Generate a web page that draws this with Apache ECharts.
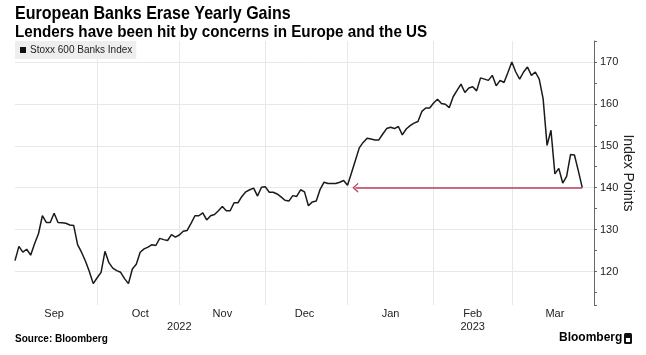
<!DOCTYPE html>
<html><head><meta charset="utf-8">
<script src="https://cdn.jsdelivr.net/npm/echarts@6/dist/echarts.min.js"></script>
<style>html,body{margin:0;padding:0;background:#fff}#c{width:646px;height:355px}</style>
</head><body><div id="c"></div>
<script>
// Trading days, Stoxx 600 Banks Index
const dates = [
 '2022-09-01','2022-09-02','2022-09-05','2022-09-06','2022-09-07','2022-09-08','2022-09-09','2022-09-12','2022-09-13','2022-09-14','2022-09-15','2022-09-16','2022-09-19','2022-09-20','2022-09-21','2022-09-22','2022-09-23','2022-09-26','2022-09-27','2022-09-28','2022-09-29','2022-09-30',
 '2022-10-03','2022-10-04','2022-10-05','2022-10-06','2022-10-07','2022-10-10','2022-10-11','2022-10-12','2022-10-13','2022-10-14','2022-10-17','2022-10-18','2022-10-19','2022-10-20','2022-10-21','2022-10-24','2022-10-25','2022-10-26','2022-10-27','2022-10-28','2022-10-31',
 '2022-11-01','2022-11-02','2022-11-03','2022-11-04','2022-11-07','2022-11-08','2022-11-09','2022-11-10','2022-11-11','2022-11-14','2022-11-15','2022-11-16','2022-11-17','2022-11-18','2022-11-21','2022-11-22','2022-11-23','2022-11-24','2022-11-25','2022-11-28','2022-11-29','2022-11-30',
 '2022-12-01','2022-12-02','2022-12-05','2022-12-06','2022-12-07','2022-12-08','2022-12-09','2022-12-12','2022-12-13','2022-12-14','2022-12-15','2022-12-16','2022-12-19','2022-12-20','2022-12-21','2022-12-22','2022-12-23','2022-12-27','2022-12-28','2022-12-29','2022-12-30',
 '2023-01-02','2023-01-03','2023-01-04','2023-01-05','2023-01-06','2023-01-09','2023-01-10','2023-01-11','2023-01-12','2023-01-13','2023-01-16','2023-01-17','2023-01-18','2023-01-19','2023-01-20','2023-01-23','2023-01-24','2023-01-25','2023-01-26','2023-01-27','2023-01-30','2023-01-31',
 '2023-02-01','2023-02-02','2023-02-03','2023-02-06','2023-02-07','2023-02-08','2023-02-09','2023-02-10','2023-02-13','2023-02-14','2023-02-15','2023-02-16','2023-02-17','2023-02-20','2023-02-21','2023-02-22','2023-02-23','2023-02-24','2023-02-27','2023-02-28',
 '2023-03-01','2023-03-02','2023-03-03','2023-03-06','2023-03-07','2023-03-08','2023-03-09','2023-03-10','2023-03-13','2023-03-14','2023-03-15','2023-03-16','2023-03-17','2023-03-20','2023-03-21','2023-03-22','2023-03-23','2023-03-24'
];
// empty trailing categories (axis runs on past the last close)
const padDates = ['2023-03-27','2023-03-28','2023-03-29'];

const bankIndex = [
 122.6,126.0,124.6,125.3,123.9,126.6,129.0,133.3,131.7,131.7,133.9,131.7,131.6,131.5,131.1,131.0,126.4,124.6,122.5,120.0,117.1,118.5,
 119.8,124.8,122.1,120.8,120.2,119.8,118.3,117.1,120.6,121.7,124.6,125.4,125.8,126.4,126.2,127.9,127.6,127.4,128.8,128.2,128.7,
 129.6,129.8,131.5,133.3,133.3,134.0,132.3,133.3,133.6,134.5,135.5,134.5,134.5,136.4,136.4,137.9,139.0,139.5,139.9,138.0,140.1,140.2,
 138.9,138.9,138.5,137.8,137.0,136.8,138.1,137.9,139.5,139.0,135.7,136.6,136.8,139.6,141.3,141.0,141.0,141.0,141.3,141.7,140.6,
 143.5,146.5,149.5,150.8,151.8,151.6,151.4,151.4,152.8,154.1,154.4,154.1,154.6,152.6,154.0,154.8,155.4,155.8,158.2,159.0,159.0,160.2,
 161.1,160.1,159.9,159.1,161.7,163.2,164.7,162.7,163.8,164.1,163.1,166.2,165.9,165.6,166.8,164.3,165.6,165.1,167.5,170.0,
 167.6,165.9,167.6,168.8,166.8,167.6,165.9,161.2,150.1,153.7,143.3,144.6,141.1,142.7,147.9,147.8,144.0,140.0
];

const monthTickLabels = {
 '2022-09-15':'Sep','2022-10-17':'Oct','2022-11-15':'Nov','2022-12-14':'Dec',
 '2023-01-16':'Jan','2023-02-14':'Feb','2023-03-15':'Mar'
};
const yearTickLabels = {'2022-10-31':'2022','2023-02-14':'2023'};
const monthEnds = ['2022-09-30','2022-10-31','2022-11-30','2022-12-30','2023-01-31','2023-02-28'];

const yearStartLevel = 140;      // level the arrow marks
const arrowFrom = '2023-01-03';

const categories = dates.concat(padDates);
const FONT = "'Liberation Sans', Arial, sans-serif";
const ARROW = 'path://M0,10 L5,0 L10,10 L8.6,10.6 L5,3.2 L1.4,10.6 Z';

const chart = echarts.init(document.getElementById('c'), null, {renderer:'canvas'});
chart.setOption({
  animation: false,
  backgroundColor: '#ffffff',
  textStyle: {fontFamily: FONT},
  title: [
    {text:'Source: Bloomberg', left:15, top:334, padding:0,
     textStyle:{fontFamily:FONT, fontSize:10, fontWeight:'bold', color:'#000'}}
  ],
  legend: {
    left: 15, top: 41, padding: [4, 4, 4, 5],
    backgroundColor: '#eeeeee',
    icon: 'rect', itemWidth: 6, itemHeight: 6, itemGap: 4,
    textStyle: {fontSize: 10, color: '#222', fontFamily: FONT, padding:[0,0,0,-1]},
    data: ['Stoxx 600 Banks Index']
  },
  grid: {left: 15, right: 52, top: 41, bottom: 50, outerBoundsMode: 'none', containLabel: false},
  xAxis: [
    {type:'category', data:categories, boundaryGap:false,
     axisLine:{show:false}, axisTick:{show:false},
     axisLabel:{interval:(i,v)=>monthTickLabels.hasOwnProperty(v), formatter:v=>monthTickLabels[v]||'',
       margin:3, fontSize:11, color:'#222', fontFamily:FONT},
     splitLine:{show:true, interval:(i,v)=>monthEnds.indexOf(v)>=0, lineStyle:{color:'#e8e8e8', width:1}}},
    {type:'category', data:categories, boundaryGap:false, position:'bottom', offset:13,
     axisLine:{show:false}, axisTick:{show:false}, splitLine:{show:false},
     axisLabel:{interval:(i,v)=>yearTickLabels.hasOwnProperty(v), formatter:v=>yearTickLabels[v]||'',
       margin:3, fontSize:11, color:'#222', fontFamily:FONT}}
  ],
  yAxis: [
    {type:'value', position:'right', min:112, max:175, splitNumber:5, minInterval:10, maxInterval:10,
     axisLine:{show:true, lineStyle:{color:'#666', width:1}},
     axisTick:{show:false},
     axisLabel:{showMinLabel:false, showMaxLabel:false, margin:6, fontSize:11, color:'#222', fontFamily:FONT,
       formatter:v=>(v%10===0 ? String(v) : '')},
     splitLine:{show:true, showMinLine:false, showMaxLine:false, lineStyle:{color:'#e8e8e8', width:1}},
     name:'Index Points', nameLocation:'middle', nameRotate:-90, nameGap:27, nameMoveOverlap:false,
     nameTextStyle:{fontSize:14, color:'#222', fontFamily:FONT}},
    {type:'value', position:'right', min:112, max:175, splitNumber:12, minInterval:5, maxInterval:5,
     axisLine:{show:false}, axisLabel:{show:false}, splitLine:{show:false},
     axisTick:{show:true, length:3, lineStyle:{color:'#666', width:1}}}
  ],
  series: [{
    name:'Stoxx 600 Banks Index', type:'line', data:bankIndex,
    xAxisIndex:0, yAxisIndex:0,
    showSymbol:false, symbol:'none',
    itemStyle:{color:'#111'},
    lineStyle:{color:'#1a1a1a', width:1.5},
    markLine:{
      silent:true, symbol:[ARROW,'none'], symbolSize:[10,6],
      label:{show:false},
      lineStyle:{color:'#b9415e', width:1.5, type:'solid'},
      data:[[{coord:[arrowFrom, yearStartLevel]}, {coord:[dates[dates.length-1], yearStartLevel]}]]
    }
  }],
  graphic: [
    {type:'text', x:15, y:4, scaleX:0.845, style:{text:'European Banks Erase Yearly Gains', font:"bold 19px 'Liberation Sans', Arial, sans-serif", fill:'#000', textVerticalAlign:'top'}},
    {type:'text', x:15, y:25, scaleX:0.95, style:{text:'Lenders have been hit by concerns in Europe and the US', font:"bold 16px 'Liberation Sans', Arial, sans-serif", fill:'#000', textVerticalAlign:'top'}},
    {type:'text', left:559, top:332, style:{text:'Bloomberg', font:"bold 12px 'Liberation Sans', Arial, sans-serif", fill:'#000'}},
    {type:'rect', left:624, top:333, shape:{width:8, height:11, r:1.5}, style:{fill:'#111'}},
    {type:'rect', left:626, top:338, shape:{width:4, height:4}, style:{fill:'#fff'}}
  ]
});
</script></body></html>
